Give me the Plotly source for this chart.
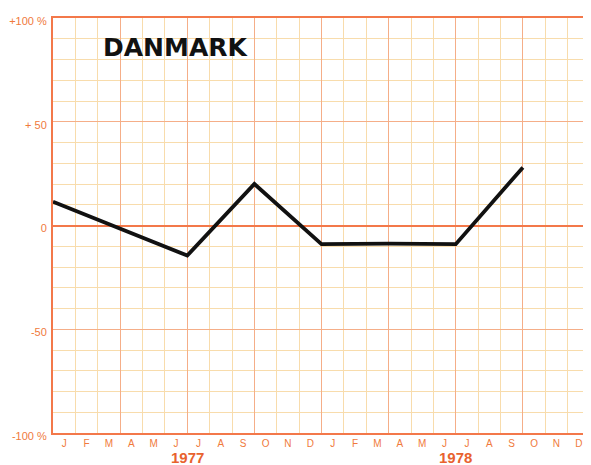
import plotly.graph_objects as go

# month boundaries (0 = start of Jan 1977) and % change
month_pos = [0, 6, 9, 12, 15, 18, 21]
change_pct = [11.5, -14.5, 20, -9, -8.7, -9, 28]

month_letters = ["J", "F", "M", "A", "M", "J", "J", "A", "S", "O", "N", "D"] * 2
month_centres = [i + 0.5 for i in range(24)]
years = ["1977", "1978"]
year_centres = [6, 18]

y_ticks = [-100, -50, 0, 50, 100]
y_ticktext = ["-100 %", "-50", "0", "+ 50", "+100 %"]

ORANGE = "#f3784a"
PALE = "#f8dcac"
MID = "#f5ae88"
LABEL = "#f07a3c"

fig = go.Figure()

fig.add_trace(go.Scatter(
    x=month_pos, y=change_pct, mode="lines",
    line=dict(color="#111111", width=3.8),
    showlegend=False, hoverinfo="skip",
))

fig.update_xaxes(
    range=[0, 24], automargin=False,
    tickvals=month_centres, ticktext=month_letters,
    tickfont=dict(family="Liberation Sans", size=10, color=LABEL),
    ticks="", showgrid=False, zeroline=False,
    showline=True, linecolor=ORANGE, linewidth=2, mirror=True,
    minor=dict(tickvals=list(range(1, 24)), showgrid=True, gridcolor=PALE, gridwidth=1, ticks=""),
)

# stronger verticals every quarter
fig.update_layout(xaxis2=dict(
    overlaying="x", matches="x", range=[0, 24], automargin=False,
    tickvals=[3, 6, 9, 12, 15, 18, 21], showticklabels=False,
    showgrid=True, gridcolor=MID, gridwidth=1, zeroline=False,
))
fig.add_trace(go.Scatter(x=[0], y=[0], xaxis="x2", mode="markers",
                         marker=dict(opacity=0), showlegend=False, hoverinfo="skip"))

fig.update_yaxes(
    range=[-100, 100], automargin=False,
    tickvals=y_ticks, ticktext=y_ticktext,
    tickfont=dict(family="Liberation Sans", size=11, color=LABEL),
    ticks="", ticklabelshift=3, ticklabelstandoff=2,
    showgrid=True, gridcolor=MID, gridwidth=1,
    zeroline=True, zerolinecolor=ORANGE, zerolinewidth=1.5,
    showline=True, linecolor=ORANGE, linewidth=2,
    minor=dict(tickvals=[v for v in range(-90, 100, 10) if v % 50], showgrid=True,
               gridcolor=PALE, gridwidth=1, ticks=""),
)

for yr, xc in zip(years, year_centres):
    fig.add_annotation(
        x=xc, y=0, xref="x", yref="paper", yanchor="middle", yshift=-24,
        text=f"<b>{yr}</b>", showarrow=False,
        font=dict(family="Liberation Sans", size=15, color="#e8622e"),
    )

fig.add_annotation(
    x=0.089, y=0.93, xref="paper", yref="paper", xanchor="left", yanchor="middle",
    text="<b>DANMARK</b>", showarrow=False,
    font=dict(family="DejaVu Sans", size=25, color="#111111"),
)

# the page body adds an 8px offset, so the figure is sized to fit the window
fig.update_layout(
    width=583, height=457,
    margin=dict(l=45, r=1, t=10, b=32),
    plot_bgcolor="white", paper_bgcolor="white",
)

fig.write_html("out.html")
